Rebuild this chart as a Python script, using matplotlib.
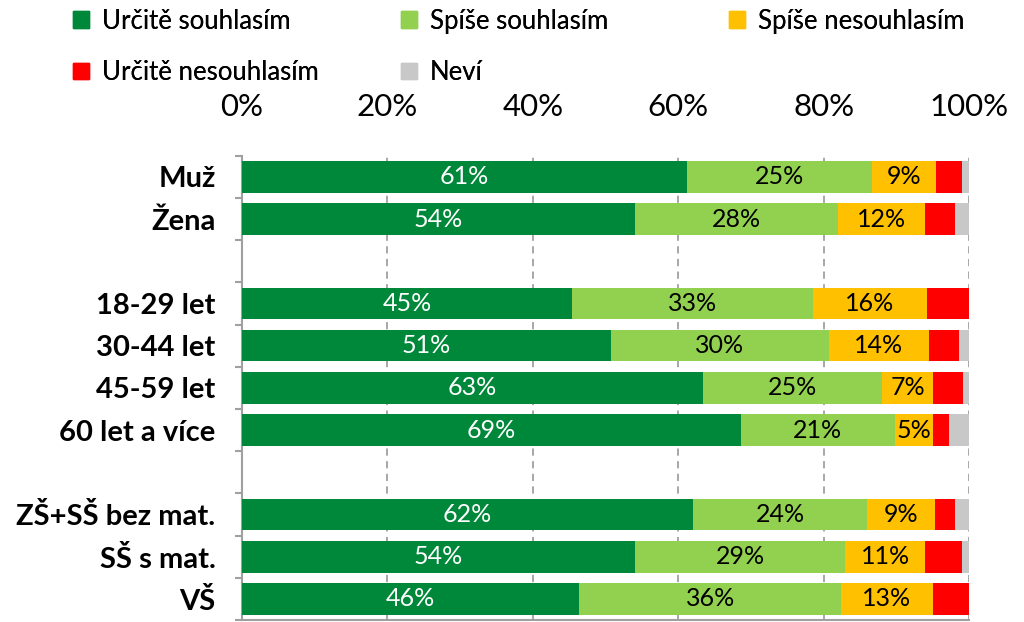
import matplotlib
matplotlib.use("Agg")
import matplotlib.pyplot as plt
import numpy as np
from matplotlib.patches import Patch

plt.rcParams['font.family'] = ['Lato', 'DejaVu Sans']

categories = ["Muž", "Žena", "", "18-29 let", "30-44 let", "45-59 let", "60 let a více",
              "", "ZŠ+SŠ bez mat.", "SŠ s mat.", "VŠ"]
series_names = ["Určitě souhlasím", "Spíše souhlasím", "Spíše nesouhlasím",
                "Určitě nesouhlasím", "Neví"]
# values in %, blank rows are gaps between groups
urcite_souhlasim = [61.2, 54.1, 0, 45.4, 50.8, 63.4, 68.6, 0, 62.0, 54.1, 46.4]
spise_souhlasim = [25.4, 27.9, 0, 33.1, 29.9, 24.6, 21.2, 0, 24.0, 28.8, 36.0]
spise_nesouhlasim = [8.9, 12.0, 0, 15.7, 13.8, 7.1, 5.2, 0, 9.3, 11.1, 12.6]
urcite_nesouhlasim = [3.5, 4.1, 0, 5.8, 4.1, 4.1, 2.2, 0, 2.8, 5.0, 5.0]
nevi = [1.0, 1.9, 0, 0.0, 1.4, 0.8, 2.8, 0, 1.9, 1.0, 0.0]
colors = ["#00883A", "#92D050", "#FFC000", "#FF0000", "#C8C8C8"]

data = [urcite_souhlasim, spise_souhlasim, spise_nesouhlasim, urcite_nesouhlasim, nevi]

fig = plt.figure(figsize=(10.24, 6.22), dpi=100)
ax = fig.add_axes([0.2363, 0.0032, 0.71, 0.7465])

y = np.arange(len(categories))
left = np.zeros(len(categories))
for i, vals in enumerate(data):
    vals = np.array(vals)
    bars = ax.barh(y, vals, left=left, height=0.75, color=colors[i], zorder=3)
    if i < 3:
        labels = ["%d%%" % round(v) if v > 0 else "" for v in vals]
        ax.bar_label(bars, labels=labels, label_type='center', fontsize=18,
                     color='white' if i == 0 else 'black')
    left += vals

ax.set_xlim(0, 100)
ax.set_ylim(len(categories) - 0.5, -0.5)
ax.xaxis.tick_top()
ax.set_xticks([0, 20, 40, 60, 80, 100])
ax.set_xticklabels(["0%", "20%", "40%", "60%", "80%", "100%"], fontsize=22.5)
ax.tick_params(axis='x', length=0, pad=25)
ax.grid(axis='x', color='#a0a0a0', linestyle=(0, (4, 3)), linewidth=1.3, zorder=0)

ax.set_yticks(y)
ax.set_yticklabels(categories, fontsize=21, fontweight='bold')
ax.set_yticks(np.arange(-0.5, len(categories)), minor=True)
ax.tick_params(axis='y', which='major', length=0, pad=19)
ax.tick_params(axis='y', which='minor', length=5, color='#a0a0a0', width=1.5)

for s in ['top', 'right']:
    ax.spines[s].set_visible(False)
for s in ['left', 'bottom']:
    ax.spines[s].set_color('#a0a0a0')
    ax.spines[s].set_linewidth(1.5)

handles = [Patch(color=c, label=n) for c, n in zip(colors, series_names)]
# Excel-like legend with fixed column positions: one legend per column
columns = [[0, 3], [1, 4], [2]]
col_x = [0.0713, 0.3916, 0.7119]
for idx, x0 in zip(columns, col_x):
    leg = fig.legend(handles=[handles[k] for k in idx], loc='upper left',
                     bbox_to_anchor=(x0, 0.986), frameon=False, fontsize=18.5,
                     handlelength=0.62, handleheight=0.62, handletextpad=0.5,
                     labelspacing=1.02, borderpad=0, borderaxespad=0)
    fig.add_artist(leg)

fig.savefig("out.png", dpi=100)
